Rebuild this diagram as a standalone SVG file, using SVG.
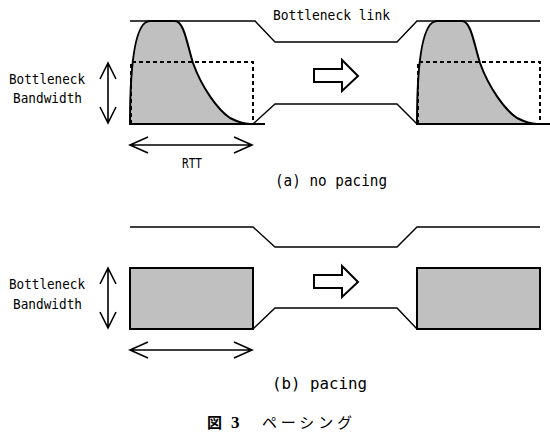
<svg xmlns="http://www.w3.org/2000/svg" width="550" height="434" viewBox="0 0 550 434">
<style>
.pipe{fill:none;stroke:#000;stroke-width:1.4}
.base{fill:none;stroke:#000;stroke-width:2}
.burst{fill:#c0c0c0;stroke:#000;stroke-width:2}
.dash{fill:none;stroke:#000;stroke-width:2;stroke-dasharray:4 3}
.dbl{fill:none;stroke:#000;stroke-width:1.6}
.blk{fill:#fff;stroke:#000;stroke-width:2;stroke-linejoin:miter}
.lbl{font-family:"DejaVu Sans Mono","Liberation Mono",monospace;font-size:14px;fill:#000}
.cap{font-family:"DejaVu Sans Mono","Liberation Mono",monospace;font-size:15px;fill:#000}
</style>
<defs>
<g id="vArrow"><path class="dbl" d="M0,0 V60 M-8,16 L0,0 L8,16 M-8,44 L0,60 L8,44"/></g>
<g id="hArrow"><path class="dbl" d="M0,0 H122 M18,-8 L0,0 L18,8 M104,-8 L122,0 L104,8"/></g>
<g id="blockArrow"><path class="blk" d="M0,-7 H28 V-16 L44,0 L28,15 V6 H0 Z"/></g>
<g id="burst">
<path class="burst" d="M130,124 C130,70 134,21 150,21 L175,21 C184,21 187,44 193,63 C202,88 218,110 230,118 C238,122 243,124 250,124 Z"/>
<path class="dash" d="M131,124 V62 H253 V124"/>
</g>
</defs>
<g id="pipe-a">
<path class="pipe" d="M130,21 H255 L275,42 H397 L417,21 H540"/>
<path class="pipe" d="M253,124 L275,104 H397 L417,124"/>
</g>
<g id="burst-left"><use href="#burst"/><path class="base" d="M130,124 H265"/></g>
<g id="burst-right"><use href="#burst" transform="translate(287,0)"/><path class="base" d="M417,124 H550"/></g>
<g id="pipe-b">
<path class="pipe" d="M130,227 H253 L275,247 H397 L417,227 H540"/>
<path class="pipe" d="M253,329 L275,308 H397 L417,329"/>
</g>
<g id="rect-left"><rect class="burst" x="130" y="268" width="123" height="61"/></g>
<g id="rect-right"><rect class="burst" x="417" y="268" width="123" height="61"/></g>
<g id="connectors">
<use href="#vArrow" transform="translate(108,63)"/>
<use href="#hArrow" transform="translate(130,145)"/>
<use href="#vArrow" transform="translate(108,268)"/>
<use href="#hArrow" transform="translate(130,350)"/>
<use href="#blockArrow" transform="translate(314,76)"/>
<use href="#blockArrow" transform="translate(314,282)"/>
</g>
<g id="labels">
<text class="lbl" x="273" y="20" textLength="117" lengthAdjust="spacingAndGlyphs">Bottleneck link</text>
<text class="lbl" x="9" y="84" textLength="76" lengthAdjust="spacingAndGlyphs">Bottleneck</text>
<text class="lbl" x="13" y="103" textLength="69" lengthAdjust="spacingAndGlyphs">Bandwidth</text>
<text class="lbl" x="182" y="168" textLength="20" lengthAdjust="spacingAndGlyphs">RTT</text>
<text class="cap" x="275" y="186" textLength="112" lengthAdjust="spacingAndGlyphs">(a) no pacing</text>
<text class="lbl" x="9" y="289" textLength="76" lengthAdjust="spacingAndGlyphs">Bottleneck</text>
<text class="lbl" x="13" y="309" textLength="69" lengthAdjust="spacingAndGlyphs">Bandwidth</text>
<text class="cap" x="272" y="389" textLength="95" lengthAdjust="spacingAndGlyphs">(b) pacing</text>
<text x="207" y="428" style="font-family:'Noto Sans CJK JP',sans-serif;font-size:15px;font-weight:bold">図</text>
<text x="231" y="428" style="font-family:'Liberation Serif',serif;font-size:17px;font-weight:bold">3</text>
<text x="262" y="428" textLength="90" style="font-family:'Noto Sans CJK JP',sans-serif;font-size:15px">ペーシング</text>
</g>
</svg>
